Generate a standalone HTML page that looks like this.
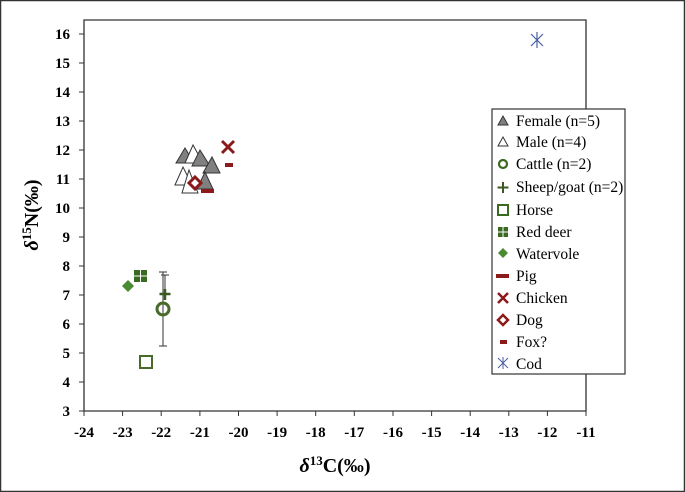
<!DOCTYPE html><html><head><style>body{margin:0;background:#fff}svg{display:block}text{font-family:"Liberation Serif",serif}</style></head><body>
<svg width="685" height="492" viewBox="0 0 685 492" xmlns="http://www.w3.org/2000/svg">
<rect x="0.5" y="0.5" width="684" height="491" fill="#fff" stroke="#333" stroke-width="1.5"/>
<g stroke="#333" stroke-width="1.3" fill="none">
<path d="M84 20H586V411H84Z"/>
</g>
<g stroke="#333" stroke-width="1">
<path d="M84 411v5M122.6 411v5M161.2 411v5M199.9 411v5M238.5 411v5M277.1 411v5M315.7 411v5M354.3 411v5M393 411v5M431.6 411v5M470.2 411v5M508.8 411v5M547.4 411v5M586 411v5"/>
<path d="M79 411h5M79 382h5M79 353h5M79 324h5M79 295h5M79 266h5M79 237h5M79 208h5M79 179h5M79 150h5M79 121h5M79 92h5M79 63h5M79 34h5"/>
</g>
<g font-size="15" font-weight="bold" text-anchor="middle">
<text x="84" y="437">-24</text><text x="122.6" y="437">-23</text><text x="161.2" y="437">-22</text><text x="199.9" y="437">-21</text><text x="238.5" y="437">-20</text><text x="277.1" y="437">-19</text><text x="315.7" y="437">-18</text><text x="354.3" y="437">-17</text><text x="393" y="437">-16</text><text x="431.6" y="437">-15</text><text x="470.2" y="437">-14</text><text x="508.8" y="437">-13</text><text x="547.4" y="437">-12</text><text x="586" y="437">-11</text>
</g>
<g font-size="15" font-weight="bold" text-anchor="end">
<text x="70" y="416">3</text><text x="70" y="387">4</text><text x="70" y="358">5</text><text x="70" y="329">6</text><text x="70" y="300">7</text><text x="70" y="271">8</text><text x="70" y="242">9</text><text x="70" y="213">10</text><text x="70" y="184">11</text><text x="70" y="155">12</text><text x="70" y="126">13</text><text x="70" y="97">14</text><text x="70" y="68">15</text><text x="70" y="39">16</text>
</g>
<text x="335" y="472" font-size="20" font-weight="bold" text-anchor="middle"><tspan font-style="italic">δ</tspan><tspan font-size="13" dy="-7">13</tspan><tspan dy="7">C(‰)</tspan></text>
<text transform="translate(38,215) rotate(-90)" font-size="20" font-weight="bold" text-anchor="middle"><tspan font-style="italic">δ</tspan><tspan font-size="13" dy="-7">15</tspan><tspan dy="7">N(‰)</tspan></text>
<g stroke="#333" stroke-width="1">
<path d="M163 272V346M159 272h8M159 346h8"/>
<path d="M165 275V294M161 275h8"/>
</g>
<g stroke="#333" stroke-width="1">
<path d="M176 163l9-15l9 15z" fill="#808080"/>
<path d="M185 163l8-18l10 18z" fill="#fff"/>
<path d="M192 166l8-16l10 16z" fill="#808080"/>
<path d="M203 173l9-16l8 16z" fill="#808080"/>
<path d="M175 185l8-18l9 18z" fill="#fff"/>
<path d="M197 189l8-17l8 17z" fill="#808080"/>
<path d="M182 193l7-23l9 23z" fill="#fff"/>
</g>
<rect x="201" y="189" width="13" height="4" fill="#8b1a1a"/>
<path d="M195 177l6 6l-6 6l-6-6z" fill="#fff" stroke="#8b1a1a" stroke-width="3"/>
<path d="M222 141l12 12M234 141l-12 12" stroke="#8b1a1a" stroke-width="3"/>
<rect x="225" y="163" width="8" height="4" fill="#8b1a1a"/>
<path d="M531 34l12 12M543 34l-12 12M537 32v16" stroke="#4a5fa0" stroke-width="1.2"/>
<circle cx="163" cy="309" r="6" fill="none" stroke="#4a6a2a" stroke-width="3"/>
<path d="M165 289v11M159.5 294h11" stroke="#3a5a20" stroke-width="2.5"/>
<rect x="140" y="356" width="12" height="12" fill="none" stroke="#4a6a2a" stroke-width="2"/>
<rect x="134" y="270" width="13" height="12" fill="#3a6a20"/><path d="M140.5 270v12M134 276h13" stroke="#fff" stroke-width="1"/>
<path d="M128 280l6 6l-6 6l-6-6z" fill="#4a8a30"/>
<rect x="492" y="109" width="133" height="265" fill="#fff" stroke="#333" stroke-width="1.2"/>
<path d="M498 125l5-9l5 9z" fill="#808080" stroke="#333"/>
<path d="M498 146l5-9l5 9z" fill="#fff" stroke="#333"/>
<circle cx="503" cy="164" r="4" fill="none" stroke="#3a6a20" stroke-width="2.2"/>
<path d="M503 182v11M497.5 187.5h11" stroke="#3a5a20" stroke-width="2"/>
<rect x="498" y="205" width="10" height="10" fill="none" stroke="#3a6a20" stroke-width="2"/>
<rect x="498" y="227" width="10" height="10" fill="#3a6a20"/><path d="M503 227v10M498 232h10" stroke="#fff"/>
<path d="M503 248l5 5l-5 5l-5-5z" fill="#4a8a30"/>
<rect x="496" y="274" width="13" height="4" fill="#8b1a1a"/>
<path d="M498 293l10 10M508 293l-10 10" stroke="#8b1a1a" stroke-width="2.5"/>
<path d="M503 315l5 5l-5 5l-5-5z" fill="#fff" stroke="#8b1a1a" stroke-width="2.5"/>
<rect x="500" y="340" width="7" height="4" fill="#8b1a1a"/>
<path d="M498 358l10 10M508 358l-10 10M503 357v12" stroke="#4a5fa0" stroke-width="1"/>
<g font-size="15.5">
<text x="516" y="126">Female (n=5)</text>
<text x="516" y="147">Male (n=4)</text>
<text x="516" y="169">Cattle (n=2)</text>
<text x="516" y="192">Sheep/goat (n=2)</text>
<text x="516" y="215">Horse</text>
<text x="516" y="237">Red deer</text>
<text x="516" y="259">Watervole</text>
<text x="516" y="281">Pig</text>
<text x="516" y="303">Chicken</text>
<text x="516" y="325">Dog</text>
<text x="516" y="347">Fox?</text>
<text x="516" y="369">Cod</text>
</g>
</svg>
</body></html>
